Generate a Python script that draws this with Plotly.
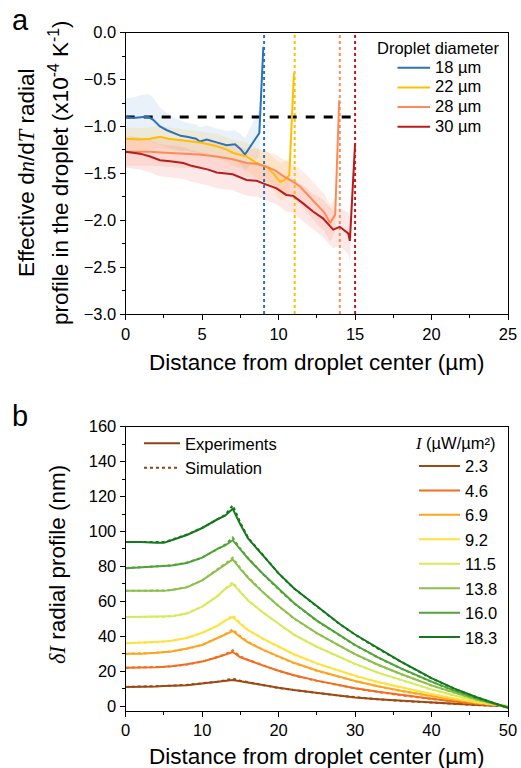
import plotly.graph_objects as go

W, H = 521, 768

# ---------------- Panel a data ----------------
a_names = ["18 µm", "22 µm", "28 µm", "30 µm"]
a_colors = ["#2b73b9", "#ffbf00", "#ff8a55", "#b81c1c"]
a_band = ["rgba(120,170,230,0.16)", "rgba(255,200,60,0.18)", "rgba(255,150,110,0.18)", "rgba(240,100,100,0.15)"]
a_edges = [9.05, 11.05, 14.0, 15.0]

x18 = [0, 0.5, 1.15, 1.5, 1.8, 2.24, 2.7, 3.1, 3.6, 4.0, 4.6, 4.85, 5.3, 5.95, 6.6, 7.15, 7.5, 7.8, 8.74, 9.0]
y18 = [-0.90, -0.91, -0.90, -0.90, -0.93, -1.00, -1.04, -1.07, -1.10, -1.11, -1.13, -1.16, -1.14, -1.17, -1.20, -1.19, -1.24, -1.30, -1.07, -0.15]
e18 = [0.20, 0.22, 0.24, 0.25, 0.24, 0.20, 0.18, 0.17, 0.16, 0.15, 0.15, 0.15, 0.15, 0.15, 0.15, 0.15, 0.16, 0.17, 0.25, 0.05]

x22 = [0, 0.94, 1.6, 2.24, 2.8, 3.3, 4.2, 4.85, 5.4, 5.95, 6.5, 7.0, 7.9, 8.56, 9.2, 9.65, 10.1, 10.4, 10.7, 11.0]
y22 = [-1.13, -1.14, -1.13, -1.11, -1.13, -1.14, -1.15, -1.17, -1.19, -1.21, -1.24, -1.28, -1.32, -1.39, -1.43, -1.50, -1.59, -1.57, -1.52, -0.43]
e22 = [0.12, 0.12, 0.12, 0.12, 0.12, 0.12, 0.12, 0.12, 0.12, 0.13, 0.13, 0.14, 0.15, 0.16, 0.17, 0.18, 0.20, 0.20, 0.18, 0.05]

x28 = [0, 0.8, 1.6, 2.6, 3.77, 4.8, 5.95, 7.0, 7.9, 8.6, 9.2, 9.8, 10.3, 10.96, 11.4, 11.8, 12.5, 13.0, 13.36, 13.7, 13.96]
y28 = [-1.27, -1.27, -1.27, -1.28, -1.29, -1.30, -1.32, -1.35, -1.39, -1.40, -1.43, -1.47, -1.53, -1.59, -1.64, -1.71, -1.84, -1.92, -2.03, -1.94, -0.72]
e28 = [0.15, 0.15, 0.15, 0.15, 0.15, 0.15, 0.15, 0.15, 0.15, 0.16, 0.16, 0.17, 0.18, 0.18, 0.19, 0.20, 0.20, 0.20, 0.20, 0.18, 0.05]

x30 = [0, 0.94, 1.6, 2.24, 2.9, 3.77, 4.3, 4.85, 5.4, 5.95, 6.5, 7.0, 7.9, 8.56, 9.2, 9.87, 10.5, 10.96, 11.6, 12.27, 12.9, 13.57, 14.0, 14.55, 14.66, 15.0]
y30 = [-1.27, -1.29, -1.32, -1.36, -1.37, -1.39, -1.42, -1.44, -1.46, -1.49, -1.50, -1.51, -1.57, -1.58, -1.62, -1.66, -1.73, -1.74, -1.82, -1.91, -1.98, -2.10, -2.07, -2.14, -2.22, -1.18]
e30 = [0.17, 0.17, 0.17, 0.17, 0.17, 0.17, 0.17, 0.17, 0.17, 0.17, 0.17, 0.17, 0.17, 0.17, 0.17, 0.17, 0.18, 0.18, 0.19, 0.19, 0.20, 0.20, 0.20, 0.22, 0.22, 0.05]

a_x = [x18, x22, x28, x30]
a_y = [y18, y22, y28, y30]
a_e = [e18, e22, e28, e30]

ref_level = -0.9
ref_x = [0, 15]

# ---------------- Panel b data ----------------
b_names = ["2.3", "4.6", "6.9", "9.2", "11.5", "13.8", "16.0", "18.3"]
b_colors = ["#9b4a12", "#f26d1f", "#ffa41f", "#ffe23d", "#d6ea5a", "#8dc04a", "#4fa337", "#16781c"]

bx = [0, 2, 4, 5, 6, 8, 10, 12, 13, 14, 15, 16, 18, 20, 22, 25, 28, 30, 33, 36, 40, 43, 46, 50]

exp_23 = [11, 11, 11.3, 11.5, 11.6, 12, 13, 14, 14.5, 15, 14.3, 13.5, 12, 10.5, 9.2, 7.6, 6.1, 5.0, 4.0, 3.1, 2.1, 1.3, 0.7, 0]
exp_46 = [22, 22, 22.3, 22.5, 22.8, 24, 25.5, 28, 29.5, 31, 28, 26.3, 23.2, 20.3, 17.7, 14.6, 12, 10.3, 8.2, 6.3, 4.2, 2.7, 1.3, 0]
exp_69 = [30, 30, 30.5, 31, 31.3, 33, 35, 39, 41, 43, 39.5, 36.5, 32.2, 28.3, 24.8, 20.4, 16.7, 14.4, 11.4, 8.8, 5.8, 3.7, 1.8, 0]
exp_92 = [36, 36.3, 36.6, 37, 37.4, 39, 42, 46, 49, 51, 47, 43.5, 38.5, 34, 29.7, 24.5, 20.2, 17.4, 13.8, 10.7, 6.9, 4.4, 2.2, 0]
exp_115 = [51, 51, 51, 51, 51.4, 53, 57, 63, 67, 70, 65, 60.5, 53.5, 47, 41, 34, 28, 24.2, 19.2, 14.9, 9.6, 6.1, 3.0, -0.5]
exp_138 = [66, 66, 66, 66, 66.5, 68, 72, 78, 81, 84, 78.5, 73.5, 65, 57.3, 50.3, 41.8, 34.5, 29.8, 23.7, 18.4, 11.9, 7.6, 3.7, -0.5]
exp_160 = [79, 79.5, 80, 80, 80.5, 82, 85, 90, 92, 95, 89.5, 84.5, 75.5, 67, 59, 49, 40.5, 35, 27.9, 21.6, 14, 8.9, 4.4, -1]
exp_183 = [94, 94, 93.5, 93.5, 95, 98, 102, 107, 109, 113, 104, 96, 86, 76, 67.5, 57, 47, 41, 33, 25.5, 16, 10, 5, -1]

sim_23 = [11, 11.1, 11.3, 11.5, 11.7, 12.2, 13, 14, 14.8, 15.8, 14.6, 13.6, 12, 10.4, 9.1, 7.5, 6.0, 5.0, 3.9, 3.0, 2.0, 1.3, 0.6, 0]
sim_46 = [22, 22.1, 22.3, 22.5, 22.8, 23.8, 25.5, 28, 29.6, 32, 28.4, 26.5, 23.2, 20.2, 17.6, 14.5, 11.9, 10.2, 8.1, 6.2, 4.1, 2.6, 1.2, 0]
sim_69 = [30, 30.1, 30.5, 31, 31.4, 32.8, 35, 39, 41.2, 44, 40, 36.8, 32.2, 28.2, 24.7, 20.3, 16.6, 14.3, 11.3, 8.7, 5.7, 3.6, 1.7, 0]
sim_92 = [36, 36.2, 36.6, 37, 37.5, 39, 42, 46, 49.2, 52, 47.5, 43.7, 38.4, 33.9, 29.6, 24.4, 20.1, 17.3, 13.7, 10.6, 6.8, 4.3, 2.1, 0]
sim_115 = [51, 51, 51, 51.2, 51.5, 53.2, 57, 63, 67.3, 71, 65.5, 60.8, 53.4, 46.9, 40.9, 33.9, 27.9, 24.1, 19.1, 14.8, 9.5, 6.0, 2.9, -0.5]
sim_138 = [66, 66, 66, 66.2, 66.6, 68.2, 72, 78, 81.5, 85, 79, 73.8, 65, 57.2, 50.2, 41.7, 34.4, 29.7, 23.6, 18.3, 11.8, 7.5, 3.6, -0.5]
sim_160 = [79, 79.4, 80, 80.2, 80.6, 82.2, 85, 90, 92.5, 96.5, 90, 84.8, 75.4, 66.9, 58.9, 48.9, 40.4, 34.9, 27.8, 21.5, 13.9, 8.8, 4.3, -1]
sim_183 = [94, 94, 93.8, 94, 95.2, 98.3, 102, 107, 109.5, 115, 105, 96.5, 86, 76, 67.4, 56.9, 46.9, 40.9, 32.9, 25.4, 15.9, 9.9, 4.9, -1]

b_exp = [exp_23, exp_46, exp_69, exp_92, exp_115, exp_138, exp_160, exp_183]
b_sim = [sim_23, sim_46, sim_69, sim_92, sim_115, sim_138, sim_160, sim_183]

# ---------------- Figure ----------------
FONT = "Liberation Sans, Arial, sans-serif"
SERIF = "Liberation Serif"
LEG = 16.5
fig = go.Figure()

def px_x(p):
    return p / W

def px_y(p):
    return 1 - p / H

# bands (panel a)
for xs, ys, es, bc in zip(a_x, a_y, a_e, a_band):
    up = [y + e for y, e in zip(ys, es)]
    lo = [y - e for y, e in zip(ys, es)]
    fig.add_trace(go.Scatter(x=xs + xs[::-1], y=up + lo[::-1], fill="toself",
                             fillcolor=bc, line=dict(width=0), mode="lines",
                             hoverinfo="skip", showlegend=False, xaxis="x", yaxis="y"))

# vertical edge lines
for xe, c in zip(a_edges, a_colors):
    fig.add_trace(go.Scatter(x=[xe, xe], y=[-3, 0], mode="lines",
                             line=dict(color=c, width=2, dash="dot"),
                             showlegend=False, xaxis="x", yaxis="y"))

# reference dashed line
fig.add_trace(go.Scatter(x=ref_x, y=[ref_level, ref_level], mode="lines",
                         line=dict(color="black", width=3, dash="dash"),
                         showlegend=False, xaxis="x", yaxis="y"))

for xs, ys, c, n in zip(a_x, a_y, a_colors, a_names):
    fig.add_trace(go.Scatter(x=xs, y=ys, mode="lines",
                             name=f"<span style='font-size:{LEG}px'>{n}</span>",
                             line=dict(color=c, width=2), legend="legend",
                             xaxis="x", yaxis="y"))

# panel b curves
for ys, ss, c, n in zip(b_exp, b_sim, b_colors, b_names):
    fig.add_trace(go.Scatter(x=bx, y=ss, mode="lines", line=dict(color=c, width=2, dash="dot"),
                             showlegend=False, xaxis="x2", yaxis="y2"))
    fig.add_trace(go.Scatter(x=bx, y=ys, mode="lines", name=n, line=dict(color=c, width=2),
                             legend="legend3", xaxis="x2", yaxis="y2"))

# legend-only entries for Experiments / Simulation
fig.add_trace(go.Scatter(x=[None], y=[None], mode="lines", name="Experiments",
                         line=dict(color="#8b4513", width=2), legend="legend2",
                         xaxis="x2", yaxis="y2"))
fig.add_trace(go.Scatter(x=[None], y=[None], mode="lines", name="Simulation",
                         line=dict(color="#8b4513", width=2, dash="dot"), legend="legend2",
                         xaxis="x2", yaxis="y2"))

axis_common = dict(showline=True, linecolor="black", linewidth=1.3, mirror=True,
                   ticks="outside", ticklen=5, tickwidth=1.3, tickcolor="black",
                   showgrid=False, zeroline=False, automargin=False,
                   tickfont=dict(family=FONT, size=16.5, color="black"))

xd = [px_x(125.7), px_x(508)]
fig.update_layout(
    width=W, height=H, margin=dict(l=0, r=0, t=0, b=0, autoexpand=False),
    paper_bgcolor="white", plot_bgcolor="white",
    font=dict(family=FONT, color="black"),
    xaxis=dict(domain=xd, anchor="y", range=[0, 25], dtick=5,
               minor=dict(dtick=2.5, ticks="outside", ticklen=3, tickcolor="black"), **axis_common),
    yaxis=dict(domain=[px_y(314), px_y(32.7)], anchor="x", range=[-3, 0], dtick=0.5,
               tickformat=".1f", minor=dict(dtick=0.25, ticks="outside", ticklen=3, tickcolor="black"),
               **axis_common),
    xaxis2=dict(domain=xd, anchor="y2", range=[0, 50], dtick=10,
                minor=dict(dtick=5, ticks="outside", ticklen=3, tickcolor="black"), **axis_common),
    yaxis2=dict(domain=[px_y(710.5), px_y(426.7)], anchor="x2", range=[-2.5, 160], dtick=20,
                minor=dict(dtick=10, ticks="outside", ticklen=3, tickcolor="black"), **axis_common),
    legend=dict(x=px_x(392.5), y=px_y(53), xanchor="left", yanchor="top",
                bgcolor="rgba(0,0,0,0)", font=dict(family=FONT, size=12.8),
                itemwidth=32.5),
    legend2=dict(x=px_x(139), y=px_y(426), xanchor="left", yanchor="top",
                 bgcolor="rgba(0,0,0,0)", font=dict(family=FONT, size=LEG),
                 itemwidth=36),
    legend3=dict(x=px_x(414), y=px_y(427.3), xanchor="left", yanchor="top",
                 bgcolor="rgba(0,0,0,0)", font=dict(family=FONT, size=LEG),
                 title=dict(text=f"<span style='font-family:{SERIF}'><i>I</i></span> (µW/µm²)",
                            font=dict(family=FONT, size=LEG)),
                 itemwidth=41),
)

def ann(text, x, y, size, angle=0):
    return dict(text=text, x=px_x(x), y=px_y(y), xref="paper", yref="paper",
                xanchor="center", yanchor="middle", textangle=angle,
                showarrow=False, font=dict(family=FONT, size=size, color="black"))

anns = [
    ann("a", 20, 20, 29),
    ann("b", 20, 416, 29),
    ann("Droplet diameter", 437.5, 48, LEG),
    ann("Distance from droplet center (µm)", 317, 362, 22.5),
    ann("Distance from droplet center (µm)", 317, 756, 22.5),
    ann(f"Effective d<span style='font-family:{SERIF}'><i>n</i></span>/d"
        f"<span style='font-family:{SERIF}'><i>T</i></span> radial", 27, 173, 22.5, -90),
    ann("profile in the droplet (x10<sup>-4</sup> K<sup>-1</sup>)", 59, 173, 22.5, -90),
    ann(f"<span style='font-family:{SERIF}'><i>δI</i></span> radial profile (nm)", 57, 565, 22.5, -90),
]
fig.update_layout(annotations=anns)

fig.write_html("out.html", config={"displayModeBar": False},
               post_script="document.body.style.margin='0';document.body.style.overflow='hidden';")
